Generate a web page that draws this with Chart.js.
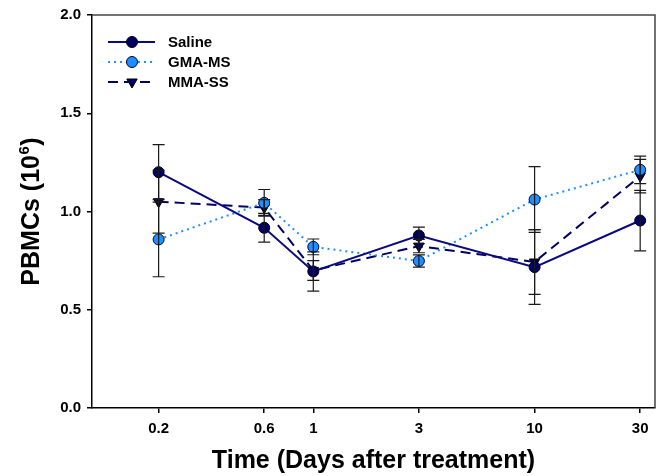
<!DOCTYPE html>
<html>
<head>
<meta charset="utf-8">
<script src="https://cdn.jsdelivr.net/npm/chart.js@4.4.0/dist/chart.umd.min.js"></script>
<style>
  body { margin: 0; background: #fff; }
  #wrap { width: 665px; height: 476px; position: relative; }
</style>
</head>
<body>
<div id="wrap"><canvas id="pbmcChart"></canvas></div>
<script>
// days after treatment (x, log scale)
const days = [0.2, 0.6, 1, 3, 10, 30];
const yTicks = [0.0, 0.5, 1.0, 1.5, 2.0];

// PBMCs (10^6), mean and error
const saline    = [1.20, 0.917, 0.695, 0.878, 0.717, 0.954];
const salineErr = [0.14, 0.073, 0.10, 0.042, 0.19, 0.154];
const gma       = [0.858, 1.044, 0.82, 0.748, 1.061, 1.212];
const gmaErr    = [0.19, 0.068, 0.04, 0.031, 0.167, 0.07];
const mma       = [1.05, 1.02, 0.70, 0.824, 0.743, 1.18];
const mmaErr    = [0.16, 0.04, 0.05, 0.034, 0.165, 0.085];

const seriesNames = ['Saline', 'GMA-MS', 'MMA-SS'];

function toPoints(vals) {
    return days.map((d, i) => ({ x: d, y: vals[i] }));
}

const errorBars = {
    id: 'errorBars',
    afterDatasetsDraw(chart) {
        const ctx = chart.ctx;
        const y = chart.scales.y;
        ctx.save();
        ctx.strokeStyle = '#1a1a1a';
        ctx.lineWidth = 1.2;
        chart.data.datasets.forEach((ds, di) => {
            const meta = chart.getDatasetMeta(di);
            meta.data.forEach((pt, i) => {
                const v = ds.data[i].y, e = ds.errors[i];
                const top = y.getPixelForValue(v + e);
                const bot = y.getPixelForValue(v - e);
                ctx.beginPath();
                ctx.moveTo(pt.x, top); ctx.lineTo(pt.x, bot);
                ctx.moveTo(pt.x - 6, top); ctx.lineTo(pt.x + 6, top);
                ctx.moveTo(pt.x - 6, bot); ctx.lineTo(pt.x + 6, bot);
                ctx.stroke();
            });
        });
        ctx.restore();
    }
};

const frameAndText = {
    id: 'frameAndText',
    afterDraw(chart) {
        const ctx = chart.ctx;
        const a = chart.chartArea;
        ctx.save();
        // top and right frame lines
        ctx.strokeStyle = '#444';
        ctx.lineWidth = 1.5;
        ctx.beginPath();
        ctx.moveTo(a.left, a.top); ctx.lineTo(a.right, a.top); ctx.lineTo(a.right, a.bottom);
        ctx.stroke();

        // legend
        ctx.font = 'bold 15px "Liberation Sans", Arial, sans-serif';
        ctx.textBaseline = 'middle';
        chart.data.datasets.forEach((ds, i) => {
            const ly = 42 + i * 20;
            ctx.strokeStyle = ds.borderColor;
            ctx.lineWidth = ds.borderWidth;
            ctx.setLineDash(ds.borderDash || []);
            ctx.beginPath();
            ctx.moveTo(108, ly); ctx.lineTo(155, ly);
            ctx.stroke();
            ctx.setLineDash([]);
            ctx.fillStyle = ds.pointBackgroundColor;
            ctx.strokeStyle = ds.pointBorderColor;
            ctx.lineWidth = 1;
            Chart.helpers.drawPoint(ctx, {
                pointStyle: ds.pointStyle, radius: ds.pointRadius,
                rotation: ds.pointRotation || 0, borderWidth: 1
            }, 132, ly);
            ctx.fillStyle = '#000';
            ctx.fillText(ds.label, 168, ly + 1);
        });

        // x title
        ctx.font = 'bold 25px "Liberation Sans", Arial, sans-serif';
        ctx.textAlign = 'center';
        ctx.textBaseline = 'alphabetic';
        ctx.fillText('Time (Days after treatment)', (a.left + a.right) / 2, 468);

        // y title with superscript
        ctx.translate(39, (a.top + a.bottom) / 2);
        ctx.rotate(-Math.PI / 2);
        ctx.textAlign = 'left';
        const big = 'bold 25px "Liberation Sans", Arial, sans-serif';
        const small = 'bold 15px "Liberation Sans", Arial, sans-serif';
        ctx.font = big;
        const w1 = ctx.measureText('PBMCs (10').width;
        const w3 = ctx.measureText(')').width;
        ctx.font = small;
        const w2 = ctx.measureText('6').width + 1;
        let x = -(w1 + w2 + w3) / 2;
        ctx.font = big;
        ctx.fillText('PBMCs (10', x, 0);
        x += w1;
        ctx.font = small;
        ctx.fillText('6', x + 0.5, -10);
        x += w2;
        ctx.font = big;
        ctx.fillText(')', x, 0);
        ctx.restore();
    }
};

const tickFont = { family: '"Liberation Sans", Arial, sans-serif', size: 15, weight: 'bold' };

new Chart(document.getElementById('pbmcChart'), {
    type: 'line',
    data: {
        datasets: [
            {
                label: seriesNames[0], data: toPoints(saline), errors: salineErr,
                borderColor: '#0a0a80', borderWidth: 2, borderDash: [],
                pointStyle: 'circle', pointRadius: 5.5,
                pointBackgroundColor: '#000066', pointBorderColor: '#000', pointBorderWidth: 1
            },
            {
                label: seriesNames[1], data: toPoints(gma), errors: gmaErr,
                borderColor: '#1e8fff', borderWidth: 2, borderDash: [2, 4],
                pointStyle: 'circle', pointRadius: 5.5,
                pointBackgroundColor: '#1e8fff', pointBorderColor: '#00003a', pointBorderWidth: 1
            },
            {
                label: seriesNames[2], data: toPoints(mma), errors: mmaErr,
                borderColor: '#000066', borderWidth: 2, borderDash: [10, 6],
                pointStyle: 'triangle', pointRotation: 180, pointRadius: 6,
                pointBackgroundColor: '#000066', pointBorderColor: '#000', pointBorderWidth: 1
            }
        ]
    },
    options: {
        responsive: true,
        maintainAspectRatio: false,
        animation: false,
        layout: { padding: { left: 0, top: 14, right: 10, bottom: 0 } },
        plugins: { legend: { display: false }, tooltip: { enabled: false } },
        scales: {
            x: {
                type: 'logarithmic',
                min: 0.1, max: 35,
                afterBuildTicks: s => { s.ticks = days.map(v => ({ value: v })); },
                afterFit: s => { s.height = 68; },
                ticks: { color: '#000', font: tickFont, padding: 7, autoSkip: false, maxRotation: 0,
                         callback: v => String(v) },
                grid: { drawOnChartArea: false, drawTicks: true, tickLength: 5, color: '#000', lineWidth: 1.5 },
                border: { color: '#000', width: 1.5 }
            },
            y: {
                min: 0, max: 2,
                afterBuildTicks: s => { s.ticks = yTicks.map(v => ({ value: v })); },
                afterFit: s => { s.width = 92; },
                ticks: { color: '#000', font: tickFont, padding: 6, callback: v => v.toFixed(1) },
                grid: { drawOnChartArea: false, drawTicks: true, tickLength: 5, color: '#000', lineWidth: 1.5 },
                border: { color: '#000', width: 1.5 }
            }
        }
    },
    plugins: [errorBars, frameAndText]
});
</script>
</body>
</html>
